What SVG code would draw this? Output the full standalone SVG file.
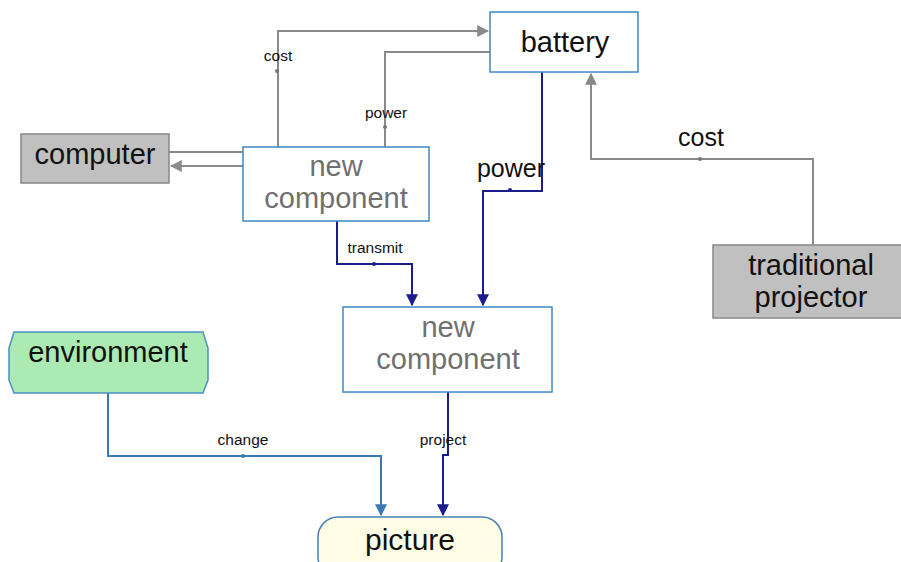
<svg xmlns="http://www.w3.org/2000/svg" width="901" height="562" viewBox="0 0 901 562">
<defs>
<style>
text{font-family:"Liberation Sans",Arial,sans-serif;text-anchor:middle}
.big{font-size:29px;fill:#111}
.nc{font-size:29px;fill:#707070}
.sm{font-size:15.5px;fill:#111}
.md{font-size:25px;fill:#111}
.gray{fill:none;stroke:#8a8a8a;stroke-width:2}
.navy{fill:none;stroke:#1c1c8c;stroke-width:2}
.blue{fill:none;stroke:#3a78b4;stroke-width:2}
.box{fill:#fff;stroke:#3f86c4;stroke-width:1.5}
.gbox{fill:#c0c0c0;stroke:#888;stroke-width:1.5}
</style>
<marker id="ag" viewBox="0 0 10 10" refX="9" refY="5" markerWidth="6" markerHeight="6" orient="auto"><path d="M0,0L10,5L0,10z" fill="#8a8a8a"/></marker>
<marker id="an" viewBox="0 0 10 10" refX="9" refY="5" markerWidth="6" markerHeight="6" orient="auto"><path d="M0,0L10,5L0,10z" fill="#1c1c8c"/></marker>
<marker id="ab" viewBox="0 0 10 10" refX="9" refY="5" markerWidth="6" markerHeight="6" orient="auto"><path d="M0,0L10,5L0,10z" fill="#3a78b4"/></marker>
</defs>
<rect width="901" height="562" fill="#fff"/>
<g id="connectors">
<path class="gray" d="M278,147V31H488" marker-end="url(#ag)"/>
<circle cx="277" cy="71" r="2" fill="#777"/>
<text class="sm" x="278" y="61">cost</text>
<path class="gray" d="M490,52H385V147"/>
<circle cx="385" cy="127" r="2" fill="#777"/>
<text class="sm" x="386" y="118">power</text>
<path class="gray" d="M243,152H169"/>
<path class="gray" d="M243,166H171" marker-end="url(#ag)"/>
<path class="navy" d="M542,72V191H483V305" marker-end="url(#an)"/>
<circle cx="510" cy="190" r="2" fill="#1c1c8c"/>
<text class="md" x="511" y="177">power</text>
<path class="navy" d="M337,221V264H412V305" marker-end="url(#an)"/>
<circle cx="374" cy="264" r="2" fill="#1c1c8c"/>
<text class="sm" x="375" y="253">transmit</text>
<path class="gray" d="M813,245V159H591V74" marker-end="url(#ag)"/>
<circle cx="700" cy="159" r="2" fill="#777"/>
<text class="md" x="701" y="146">cost</text>
<path class="blue" d="M108,393V456H381V515" marker-end="url(#ab)"/>
<circle cx="243" cy="456" r="2" fill="#3a78b4"/>
<text class="sm" x="243" y="445">change</text>
<path class="navy" d="M448,392V455H443V515" marker-end="url(#an)"/>
<text class="sm" x="443" y="445">project</text>
</g>
<g id="battery">
<rect class="box" x="490" y="12" width="148" height="60"/>
<text class="big" x="565" y="52">battery</text>
</g>
<g id="new-component-1">
<rect class="box" x="243" y="147" width="186" height="74"/>
<text class="nc" x="336" y="176">new</text>
<text class="nc" x="336" y="208">component</text>
</g>
<g id="computer">
<rect class="gbox" x="21" y="134" width="148" height="49"/>
<text class="big" x="95" y="164">computer</text>
</g>
<g id="new-component-2">
<rect class="box" x="343" y="307" width="209" height="85"/>
<text class="nc" x="448" y="337">new</text>
<text class="nc" x="448" y="369">component</text>
</g>
<g id="traditional-projector">
<rect class="gbox" x="713" y="245" width="190" height="73"/>
<text class="big" x="811" y="275">traditional</text>
<text class="big" x="811" y="307">projector</text>
</g>
<g id="environment">
<path d="M14,332H203L208,348V380L203,393H14L9,380V348Z" fill="#abeab2" stroke="#4a90c0" stroke-width="1.5"/>
<text class="big" x="108" y="362">environment</text>
</g>
<g id="picture">
<rect x="318" y="517" width="184" height="60" rx="20" fill="#fffde6" stroke="#4a80b0" stroke-width="1.5"/>
<text class="big" x="410" y="550" style="font-size:30px">picture</text>
</g>
</svg>
